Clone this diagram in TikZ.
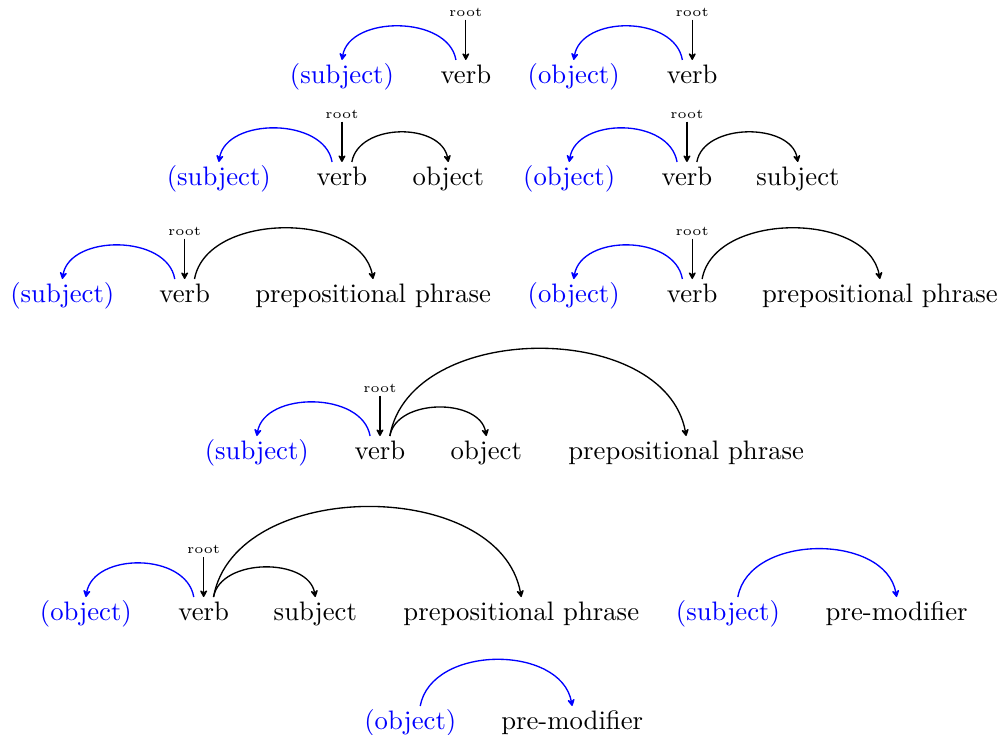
\documentclass[tikz,border=0pt]{standalone}
\usetikzlibrary{arrows.meta}
\begin{document}
\begin{tikzpicture}[word/.style={anchor=base,inner sep=0pt,text height=8.4pt,text depth=0pt},
		opt/.style={word,blue},
		rootlbl/.style={anchor=south,font=\tiny,inner sep=1pt},
		>={Stealth[length=3.2pt,width=3.4pt,inset=1.1pt,round]},line width=0.5pt]
	\useasboundingbox (0,0) rectangle (13.16,9.67);
	\draw (4.50,8.577) node[opt] (a1) {(subject)};
	\draw (6.13,8.577) node[word] (a2) {verb};
	\draw (7.55,8.577) node[opt] (b1) {(object)};
	\draw (9.11,8.577) node[word] (b2) {verb};
	\draw (2.88,7.234) node[opt] (c1) {(subject)};
	\draw (4.50,7.234) node[word] (c2) {verb};
	\draw (5.90,7.234) node[word] (c3) {object};
	\draw (7.49,7.234) node[opt] (d1) {(object)};
	\draw (9.04,7.234) node[word] (d2) {verb};
	\draw (10.50,7.234) node[word] (d3) {subject};
	\draw (0.82,5.694) node[opt] (e1) {(subject)};
	\draw (2.43,5.694) node[word] (e2) {verb};
	\draw (4.91,5.694) node[word] (e3) {prepositional phrase};
	\draw (7.55,5.694) node[opt] (f1) {(object)};
	\draw (9.11,5.694) node[word] (f2) {verb};
	\draw (11.58,5.694) node[word] (f3) {prepositional phrase};
	\draw (3.38,3.628) node[opt] (g1) {(subject)};
	\draw (5.00,3.628) node[word] (g2) {verb};
	\draw (6.40,3.628) node[word] (g3) {object};
	\draw (9.03,3.628) node[word] (g4) {prepositional phrase};
	\draw (1.13,1.509) node[opt] (h1) {(object)};
	\draw (2.68,1.509) node[word] (h2) {verb};
	\draw (4.15,1.509) node[word] (h3) {subject};
	\draw (6.86,1.509) node[word] (h4) {prepositional phrase};
	\draw (9.58,1.509) node[opt] (i1) {(subject)};
	\draw (11.80,1.509) node[word] (i2) {pre-modifier};
	\draw (5.40,0.075) node[opt] (j1) {(object)};
	\draw (7.53,0.075) node[word] (j2) {pre-modifier};
	\foreach \v in {a2,b2,c2,d2,e2,f2,g2,h2}{
			\node[rootlbl] (r\v) at ([yshift=0.53cm]\v.north) {root};
			\draw[->] (r\v) -- (\v.north);
		}
	\foreach \v/\w in {a2/a1,b2/b1,c2/c1,d2/d1,e2/e1,f2/f1,g2/g1,h2/h1}{
			\draw[blue,->] ([xshift=-0.13cm]\v.north) .. controls +(-0.1,0.59) and +(0.1,0.59) .. (\w.north);
		}
	\foreach \v/\w/\h in {c2/c3/0.52,d2/d3/0.52,e2/e3/0.89,f2/f3/0.89,g2/g3/0.50,g2/g4/1.53,h2/h3/0.52,h2/h4/1.58}{
			\draw[->] ([xshift=0.13cm]\v.north) .. controls +({0.18*\h},\h) and +({-0.18*\h},\h) .. (\w.north);
		}
	\draw[blue,->] ([xshift=0.13cm]i1.north) .. controls +(0.15,0.84) and +(-0.15,0.84) .. (i2.north);
	\draw[blue,->] ([xshift=0.13cm]j1.north) .. controls +(0.15,0.81) and +(-0.15,0.81) .. (j2.north);
\end{tikzpicture}
\end{document}
